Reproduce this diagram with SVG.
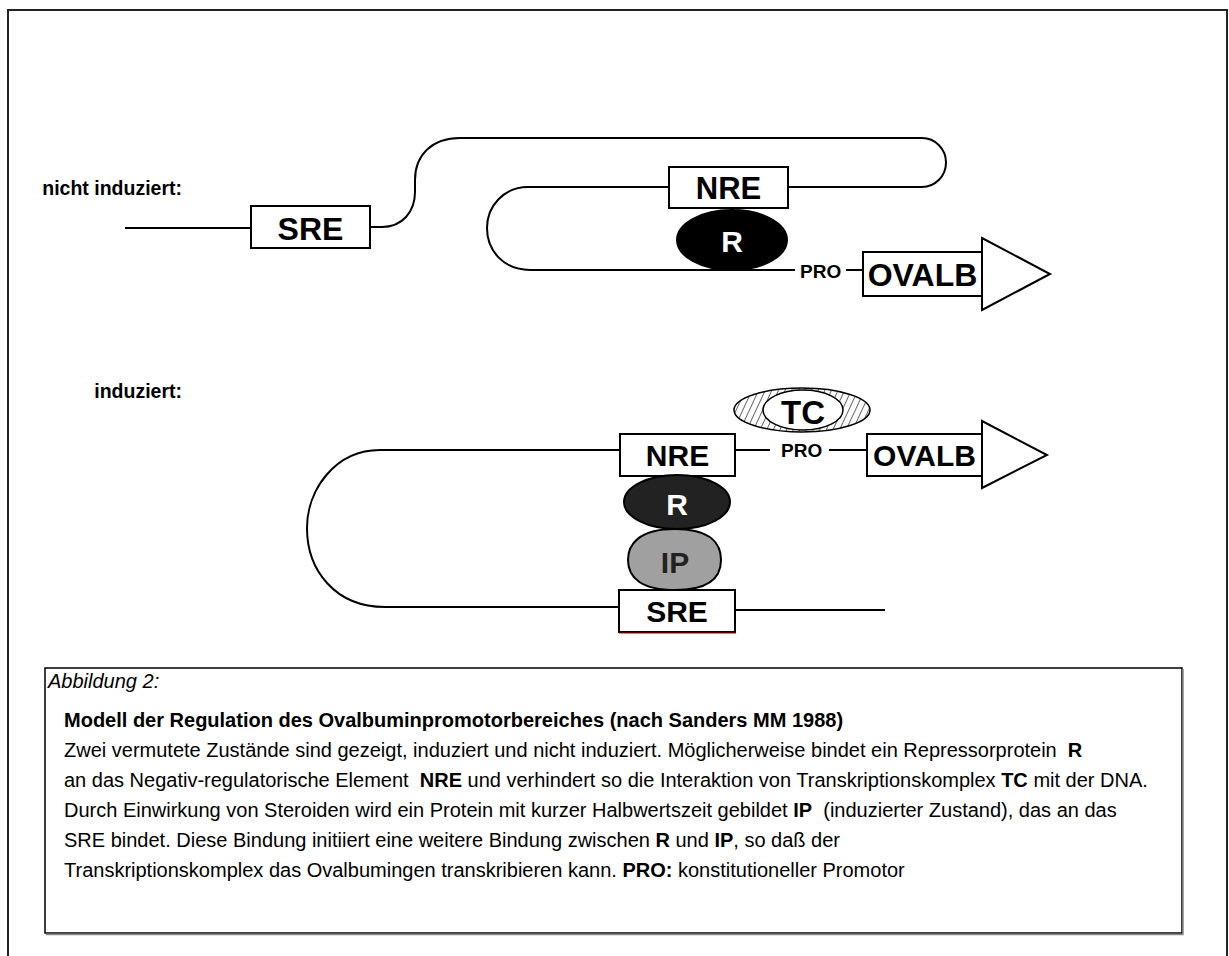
<svg xmlns="http://www.w3.org/2000/svg" width="1229" height="956" viewBox="0 0 1229 956">
<defs>
<style>
.ln{fill:none;stroke:#000;stroke-width:2}
.box{fill:#fff;stroke:#000;stroke-width:2}
.big{font-family:"Liberation Sans",Arial,sans-serif;font-weight:bold;text-anchor:middle;fill:#000}
.lbl{font-family:"Liberation Sans",Arial,sans-serif;font-weight:bold;font-size:19.5px;fill:#000;text-anchor:end}
.pro{font-family:"Liberation Sans",Arial,sans-serif;font-weight:bold;font-size:19px;fill:#000}
.cap{font-family:"Liberation Sans",Arial,sans-serif;font-size:20px;fill:#000}
.b{font-weight:bold}
</style>
<pattern id="hatch" width="6" height="6" patternUnits="userSpaceOnUse" patternTransform="rotate(25)">
<rect width="6" height="6" fill="#fff"/>
<line x1="0" y1="0" x2="0" y2="6" stroke="#000" stroke-width="1.2"/>
</pattern>
</defs>
<rect width="1229" height="956" fill="#fff"/>
<path d="M8,956 V10 H1227 V956" fill="none" stroke="#222" stroke-width="2"/>

<!-- top state -->
<text class="lbl" x="182" y="195">nicht induziert:</text>
<g id="connectors">
<path class="ln" d="M125,228 H251"/>
<path class="ln" d="M370,227 H382 C402,227 415,212 415,192 V180 C415,155 432,138 460,138 H922 A24,24.5 0 0 1 922,187 H788"/>
<path class="ln" d="M669,187 H528 C504,187 487,206 487,228 C487,251 504,270 530,270 H795"/>
<path class="ln" d="M846,270 H863"/>
<path class="ln" d="M735,450 H770"/>
<path class="ln" d="M829,450 H867"/>
<path class="ln" d="M620,450 H380 C335,450 307,490 307,528 C307,570 335,607 385,607 H620"/>
<path class="ln" d="M735,610 H885"/>
</g>
<g id="sre1"><rect class="box" x="251" y="206" width="119" height="42"/><text class="big" x="310.5" y="240" font-size="32">SRE</text></g>
<g id="nre1"><rect class="box" x="669" y="167" width="119" height="41"/><text class="big" x="728.5" y="199" font-size="31">NRE</text></g>
<g id="r1"><ellipse cx="732" cy="240" rx="55" ry="30" fill="#000" stroke="#000" stroke-width="2"/><text class="big" x="732" y="252" font-size="30" style="fill:#fff">R</text></g>
<g id="pro1"><text class="pro" x="800" y="278">PRO</text></g>
<g id="ovalb1"><rect class="box" x="863" y="252" width="119" height="44"/><text class="big" x="922.5" y="286" font-size="32">OVALB</text><polygon points="982,238 982,310 1050,274" class="box"/></g>

<!-- bottom state -->
<text class="lbl" x="182" y="398">induziert:</text>
<g id="tc"><ellipse cx="802" cy="410" rx="68" ry="22" fill="url(#hatch)" stroke="#000" stroke-width="1.5"/><ellipse cx="803" cy="410" rx="40" ry="20" fill="#fff" stroke="#000" stroke-width="1.5"/><text class="big" x="803" y="424" font-size="33">TC</text></g>
<g id="nre2"><rect class="box" x="620" y="434" width="115" height="42"/><text class="big" x="677.5" y="466" font-size="30">NRE</text></g>
<g id="pro2"><text class="pro" x="781" y="457">PRO</text></g>
<g id="ovalb2"><rect class="box" x="867" y="434" width="115" height="42"/><text class="big" x="924.5" y="466" font-size="30">OVALB</text><polygon points="982,421 982,488 1047,455" class="box"/></g>
<g id="r2"><ellipse cx="677" cy="502" rx="53" ry="27" fill="#222" stroke="#000" stroke-width="2"/><text class="big" x="677" y="515" font-size="30" style="fill:#fff">R</text></g>
<g id="ip"><path d="M675,529 C712,529 721,545 721,560 C721,578 708,590 675,590 C642,590 628,578 628,560 C628,545 638,529 675,529 Z" fill="#a0a0a0" stroke="#000" stroke-width="2"/><text class="big" x="675" y="573" font-size="30" style="fill:#222">IP</text></g>
<g id="sre2"><rect class="box" x="619" y="590" width="116" height="42"/><line x1="619" y1="633" x2="736" y2="633" stroke="#b00000" stroke-width="1"/><text class="big" x="677" y="622" font-size="30">SRE</text></g>

<!-- caption -->
<g id="caption">
<rect x="45" y="668" width="1137" height="265" fill="none" stroke="#000" stroke-width="1.5"/>
<path d="M46,934.5 H1183 V669" fill="none" stroke="#888" stroke-width="1.5"/>
<text class="cap" x="48" y="688" font-style="italic">Abbildung 2:</text>
<text class="cap b" x="64" y="727">Modell der Regulation des Ovalbuminpromotorbereiches (nach Sanders MM 1988)</text>
<text class="cap" x="64" y="757" xml:space="preserve">Zwei vermutete Zustände sind gezeigt, induziert und nicht induziert. Möglicherweise bindet ein Repressorprotein  <tspan class="b">R</tspan></text>
<text class="cap" x="64" y="787" xml:space="preserve">an das Negativ-regulatorische Element  <tspan class="b">NRE</tspan> und verhindert so die Interaktion von Transkriptionskomplex <tspan class="b">TC</tspan> mit der DNA.</text>
<text class="cap" x="64" y="817" xml:space="preserve">Durch Einwirkung von Steroiden wird ein Protein mit kurzer Halbwertszeit gebildet <tspan class="b">IP</tspan>  (induzierter Zustand), das an das</text>
<text class="cap" x="64" y="847">SRE bindet. Diese Bindung initiiert eine weitere Bindung zwischen <tspan class="b">R</tspan> und <tspan class="b">IP</tspan>, so daß der</text>
<text class="cap" x="64" y="877">Transkriptionskomplex das Ovalbumingen transkribieren kann. <tspan class="b">PRO:</tspan> konstitutioneller Promotor</text>
</g>
</svg>
